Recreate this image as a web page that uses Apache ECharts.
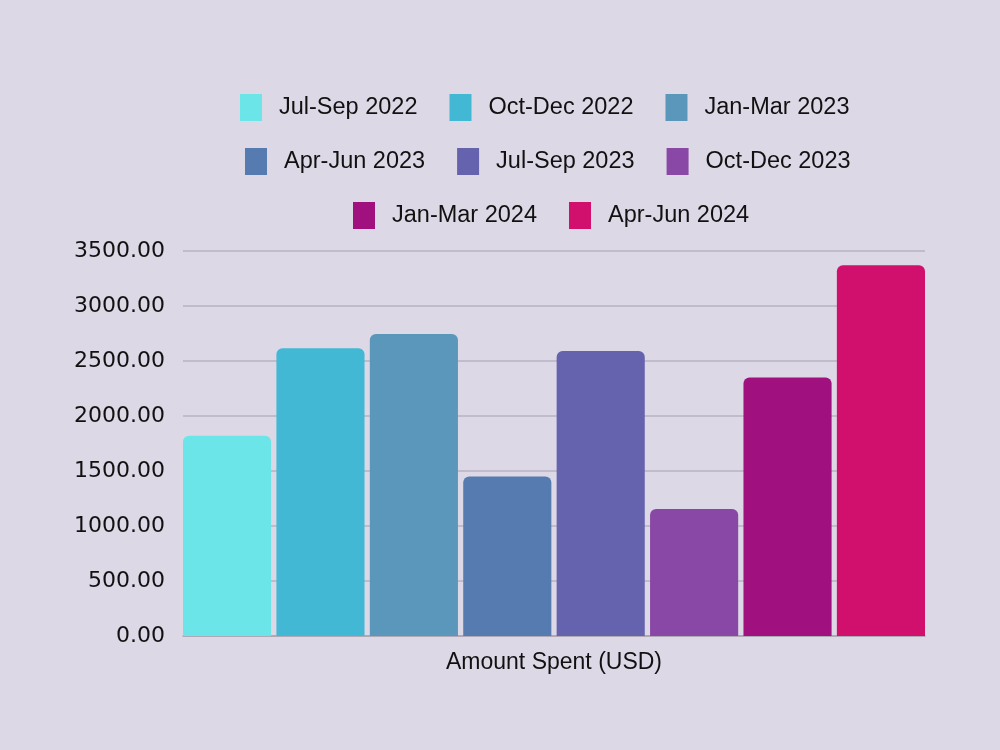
<!DOCTYPE html>
<html><head><meta charset="utf-8">
<script src="https://cdn.jsdelivr.net/npm/echarts@6/dist/echarts.min.js"></script>
<style>html,body{margin:0;padding:0;background:#ddd8e6;}#c{width:1000px;height:750px;}</style>
</head><body><div id="c"></div>
<script>
const categories = ['Amount Spent (USD)'];
const seriesNames = ['Jul-Sep 2022','Oct-Dec 2022','Jan-Mar 2023','Apr-Jun 2023','Jul-Sep 2023','Oct-Dec 2023','Jan-Mar 2024','Apr-Jun 2024'];
const seriesValues = [1820, 2615, 2745, 1450, 2590, 1155, 2350, 3370];
const colors = ['#6ce5e8','#42b8d5','#5b97bb','#557bb1','#6562ae','#8a48a6','#a0117f','#d10f6c'];
const legendRows = [[0,1,2],[3,4,5],[6,7]];
const legendLefts = [240, 245, 353];
const legendTops = [94, 148, 202];

const font = 'Liberation Sans';
const chart = echarts.init(document.getElementById('c'));
chart.setOption({
  backgroundColor: '#ddd8e6',
  color: colors,
  legend: legendRows.map((r, i) => ({
    data: r.map(k => seriesNames[k]),
    left: legendLefts[i], top: legendTops[i], padding: 0,
    icon: 'rect', itemWidth: 22, itemHeight: 27, itemGap: 32,
    textStyle: {fontFamily: font, fontSize: 23.5, color: '#111', padding: [0,0,0,12]}
  })),
  grid: {left: 183, right: 75, top: 251, bottom: 114},
  xAxis: {
    type: 'category', data: categories,
    axisLine: {show: true, lineStyle: {color: '#a9a3b0', width: 1.5}},
    axisTick: {show: false},
    axisLabel: {fontFamily: font, fontSize: 23, color: '#111', margin: 15}
  },
  yAxis: {
    type: 'value', min: 0, max: 3500, interval: 500,
    axisLabel: {fontFamily: 'DejaVu Sans', fontSize: 22, color: '#111', margin: 18,
      formatter: v => v.toFixed(2)},
    splitLine: {lineStyle: {color: '#b9b2c2', width: 1.5}},
    axisLine: {show: false}, axisTick: {show: false}
  },
  series: seriesNames.map((n, i) => ({
    name: n, type: 'bar',
    data: [seriesValues[i]],
    barGap: '6%', barCategoryGap: 0,
    itemStyle: {color: colors[i], borderRadius: [6,6,0,0]}
  }))
});
</script></body></html>
